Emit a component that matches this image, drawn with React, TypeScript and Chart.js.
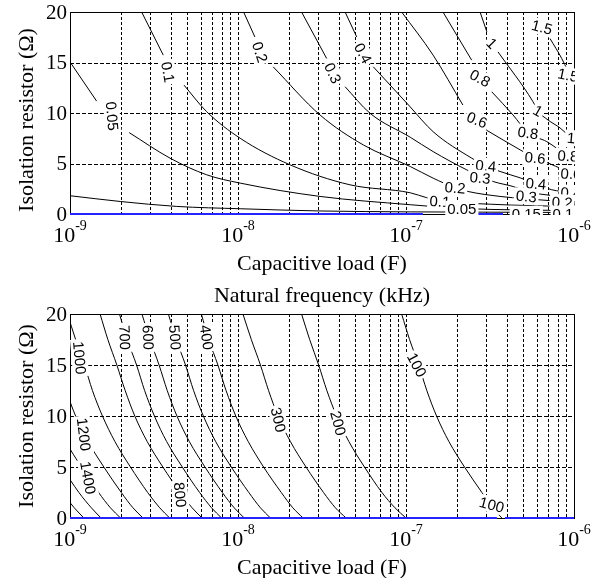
import React, { useEffect, useRef } from "react";
import { Chart, registerables } from "chart.js";

Chart.register(...registerables);

type Pt = [number, number] | null;
type Label = [string, number, number];

// ---------------- axes ----------------
const xDecadeExponents = [-9, -8, -7, -6];
const xMinorMultipliers = [2, 3, 4, 5, 6, 7, 8, 9];
const yTickValues = [0, 5, 10, 15, 20];
const xAxisTitle = "Capacitive load (F)";
const yAxisTitle = "Isolation resistor (Ω)";
const bottomTitle = "Natural frequency (kHz)";

// ---------------- top chart contours: [C (F), R (Ω)] ----------------
const top002: Pt[] = [[1e-9, 1.81], [1.99e-9, 1.24], [4.32e-9, 0.75], [1.03e-8, 0.52], [3.08e-8, 0.3], [1.06e-7, 0.21], [3.2e-7, 0.18], [1e-6, 0.15]];
const top005: Pt[] = [[1e-9, 15.06], [1.44e-9, 11.18], null, [2.25e-9, 8.06], [3.94e-9, 5.53], [6.51e-9, 3.88], [1.03e-8, 3.06], [3.08e-8, 1.74], [1.06e-7, 0.92], [2.15e-7, 0.55], [4.78e-7, 0.4], [1e-6, 0.35]];
const top01: Pt[] = [[2.67e-9, 20], [3.59e-9, 15.73], null, [4.77e-9, 12.76], [6.51e-9, 10.13], [1.03e-8, 7.5], [2.04e-8, 4.87], [4.64e-8, 2.89], [1.06e-7, 2.1], [1.33e-7, 1.61], [1.59e-7, 1.3], [3.17e-7, 0.97], [1e-6, 0.72]];
const top02: Pt[] = [[1.08e-8, 20], [1.26e-8, 17.53], null, [1.62e-8, 14.57], [3.08e-8, 9.8], [5.57e-8, 6.84], [1.06e-7, 4.7], [1.45e-7, 3.55], [1.96e-7, 2.6], [2.34e-7, 2.23], [3.63e-7, 1.74], [5.11e-7, 1.51], [1e-6, 1.16]];
const top03: Pt[] = [[2.39e-8, 20], [3.37e-8, 15.4], null, [4.34e-8, 12.6], [6.11e-8, 9.97], [1.06e-7, 7.6], [1.45e-7, 6.18], [2.3e-7, 4.37], [2.76e-7, 3.78], [3.3e-7, 3.22], [4.34e-7, 2.72], [5.32e-7, 2.2], [1e-6, 1.61]];
const top04: Pt[] = [[4.34e-8, 20], [5.09e-8, 17.53], null, [6.39e-8, 14.57], [1.06e-7, 10.6], [1.45e-7, 8.15], [2.46e-7, 5.53], [2.99e-7, 4.77], [3.63e-7, 4.21], [4.78e-7, 3.58], [5.94e-7, 2.99], [7.37e-7, 2.4], [9.6e-7, 2.1], [1e-6, 2.0]];
const top06: Pt[] = [[9.42e-8, 20], [1.45e-7, 15.73], [2.18e-7, 10.79], null, [3.0e-7, 8.32], [4.78e-7, 6.35], [5.86e-7, 5.56], [7.2e-7, 4.97], [9.6e-7, 3.98], [1e-6, 3.78]];
const top08: Pt[] = [[1.66e-7, 20], [2.46e-7, 15.23], null, [3.24e-7, 12.1], [4.34e-7, 9.8], [5.32e-7, 8.03], [6.88e-7, 7.17], [9.2e-7, 5.75], [1e-6, 5.45]];
const top1: Pt[] = [[2.76e-7, 20], [3.03e-7, 18.03], null, [3.53e-7, 16.05], [5.7e-7, 11.12], [6.1e-7, 10.2], [7.0e-7, 9.31], [8.26e-7, 8.52], [9.6e-7, 7.53], [1e-6, 7.24]];
const top15: Pt[] = [[7.2e-7, 17.37], [8.45e-7, 15.4], [1e-6, 12.86]];
const topZero: Pt[] = [[1e-9, 0], [1.26e-7, 0], null, [2.61e-7, 0], [3.78e-7, 0]];

const topLabels: Label[] = [
  ["0.05", 1.78e-9, 9.7], ["0.1", 3.83e-9, 14.05], ["0.2", 1.35e-8, 16.02], ["0.3", 3.67e-8, 13.95],
  ["0.4", 5.55e-8, 15.92], ["1", 3.24e-7, 16.91], ["0.8", 2.76e-7, 13.45], ["0.6", 2.65e-7, 9.31],
  ["1.5", 6.45e-7, 18.49], ["1.5", 9.2e-7, 13.75], ["1", 6.1e-7, 10.2], ["0.8", 5.32e-7, 8.03],
  ["1", 9.6e-7, 7.53], ["0.6", 5.86e-7, 5.56], ["0.8", 9.2e-7, 5.75], ["0.4", 2.99e-7, 4.77],
  ["0.6", 9.6e-7, 3.98], ["0.3", 2.76e-7, 3.58], ["0.4", 5.94e-7, 2.99], ["0.4", 9.6e-7, 2.1],
  ["0.2", 1.96e-7, 2.6], ["0.3", 5.2e-7, 1.75], ["0.2", 8.5e-7, 1.15], ["0.1", 1.59e-7, 1.24],
  ["0.05", 2.15e-7, 0.52], ["0.15", 5.2e-7, 0.02], ["0.1", 8.6e-7, 0.05],
];
const topLabelAngles = [85, 80, 72, 65, 62, 45, 28, 22, 15, 12, 30, 8, 5, 5, 3, 5, 3, 5, 5, 3, 5, 5, 3, 3, 0, 0, 0];

// ---------------- bottom chart contours (natural frequency, kHz) ----------------
const freq100: Pt[] = [[9.42e-8, 20], [1.05e-7, 17.5], [1.19e-7, 15], [1.33e-7, 12.5], [1.52e-7, 10], [1.8e-7, 7.5], [2.23e-7, 5], [2.83e-7, 2.5], [3.28e-7, 1], [3.72e-7, 0]];
const freq200: Pt[] = [[2.39e-8, 20], [2.67e-8, 17.5], [3.02e-8, 15], [3.38e-8, 12.5], [3.86e-8, 10], [4.57e-8, 7.5], [5.66e-8, 5], [7.19e-8, 2.5], [8.6e-8, 1], [1.0e-7, 0]];
const freq300: Pt[] = [[1.07e-8, 20], [1.2e-8, 17.5], [1.36e-8, 15], [1.52e-8, 12.5], [1.73e-8, 10], [2.05e-8, 7.5], [2.54e-8, 5], [3.23e-8, 2.5], [3.8e-8, 1], [4.4e-8, 0]];
const freq400: Pt[] = [[6.05e-9, 20], [6.7e-9, 17.5], [7.59e-9, 15], [8.49e-9, 12.5], [9.7e-9, 10], [1.15e-8, 7.5], [1.42e-8, 5], [1.81e-8, 2.5], [2.12e-8, 1], [2.44e-8, 0]];
const freq500: Pt[] = [[3.85e-9, 20], [4.29e-9, 17.5], [4.87e-9, 15], [5.44e-9, 12.5], [6.22e-9, 10], [7.36e-9, 7.5], [9.12e-9, 5], [1.16e-8, 2.5], [1.36e-8, 1], [1.56e-8, 0]];
const freq600: Pt[] = [[2.68e-9, 20], [2.99e-9, 17.5], [3.39e-9, 15], [3.79e-9, 12.5], [4.33e-9, 10], [5.13e-9, 7.5], [6.36e-9, 5], [8.07e-9, 2.5], [9.49e-9, 1], [1.09e-8, 0]];
const freq700: Pt[] = [[1.97e-9, 20], [2.19e-9, 17.5], [2.49e-9, 15], [2.78e-9, 12.5], [3.18e-9, 10], [3.76e-9, 7.5], [4.66e-9, 5], [5.91e-9, 2.5], [6.96e-9, 1], [7.98e-9, 0]];
const freq800: Pt[] = [[1.51e-9, 20], [1.68e-9, 17.5], [1.9e-9, 15], [2.13e-9, 12.5], [2.43e-9, 10], [2.88e-9, 7.5], [3.57e-9, 5], [4.53e-9, 2.5], [5.33e-9, 1], [6.11e-9, 0]];
const freq1000: Pt[] = [[9.66e-10, 20], [1.08e-9, 17.5], [1.22e-9, 15], [1.36e-9, 12.5], [1.56e-9, 10], [1.85e-9, 7.5], [2.29e-9, 5], [2.9e-9, 2.5], [3.42e-9, 1], [3.92e-9, 0]];
const freq1200: Pt[] = [[8.48e-10, 15], [9.48e-10, 12.5], [1.08e-9, 10], [1.28e-9, 7.5], [1.59e-9, 5], [2.02e-9, 2.5], [2.37e-9, 1], [2.72e-9, 0]];
const freq1400: Pt[] = [[6.97e-10, 12.5], [7.96e-10, 10], [9.43e-10, 7.5], [1.17e-9, 5], [1.48e-9, 2.5], [1.74e-9, 1], [2.0e-9, 0]];
const freq1600: Pt[] = [[6.1e-10, 10], [7.22e-10, 7.5], [8.94e-10, 5], [1.13e-9, 2.5], [1.34e-9, 1], [1.53e-9, 0]];
const freq1800: Pt[] = [[5.72e-10, 7.5], [7.09e-10, 5], [9.0e-10, 2.5], [1.06e-9, 1], [1.21e-9, 0]];
const bottomZero: Pt[] = [[1e-9, 0], [3.48e-7, 0], null, [3.88e-7, 0], [1e-6, 0]];

const bottomLabels: Label[] = [
  ["1000", 1.14e-9, 15.7], ["700", 2.12e-9, 17.7], ["600", 2.92e-9, 17.7], ["500", 4.22e-9, 17.7],
  ["400", 6.51e-9, 17.7], ["1200", 1.21e-9, 8.2], ["1400", 1.28e-9, 3.95], ["800", 4.52e-9, 2.28],
  ["300", 1.74e-8, 9.64], ["200", 3.95e-8, 9.3], ["100", 1.16e-7, 15.0], ["100", 3.24e-7, 1.3],
];
const bottomLabelAngles = [85, 88, 88, 86, 82, 83, 80, 84, 77, 75, 62, 15];

// ---------------- rendering ----------------
const SERIF = '"Liberation Serif", "Times New Roman", Times, serif';
const SANS = '"Liberation Sans", Arial, Helvetica, sans-serif';
const xMin = Math.pow(10, xDecadeExponents[0]);
const xMax = Math.pow(10, xDecadeExponents[xDecadeExponents.length - 1]);
const yMin = yTickValues[0];
const yMax = yTickValues[yTickValues.length - 1];

interface PanelCfg {
  top: number;
  height: number;
  padding: { left: number; right: number; top: number; bottom: number };
  lines: Pt[][];
  zero: Pt[];
  labels: Label[];
  angles: number[];
  title?: string;
  yTitleY: number;
}

function makeDecor(cfg: PanelCfg) {
  return {
    id: "decor",
    beforeDatasetsDraw(chart: any) {
      const { ctx, chartArea: a } = chart;
      const xs = chart.scales.x;
      const ys = chart.scales.y;
      const L = Math.round(a.left), R = Math.round(a.right), T = Math.round(a.top), B = Math.round(a.bottom);
      ctx.save();
      ctx.strokeStyle = "#000";
      ctx.lineWidth = 1;
      ctx.setLineDash([3, 2]);
      for (const e of xDecadeExponents) {
        for (const m of [1, ...xMinorMultipliers]) {
          const v = m * Math.pow(10, e);
          if (v < xMin * 1.001 || v > xMax * 0.999) continue;
          const px = Math.round(xs.getPixelForValue(v)) + 0.5;
          ctx.beginPath();
          ctx.moveTo(px, T);
          ctx.lineTo(px, B);
          ctx.stroke();
        }
      }
      ctx.setLineDash([4, 2]);
      for (const t of yTickValues) {
        if (t <= yMin || t >= yMax) continue;
        const py = Math.round(ys.getPixelForValue(t)) + 0.5;
        ctx.beginPath();
        ctx.moveTo(L, py);
        ctx.lineTo(R, py);
        ctx.stroke();
      }
      ctx.setLineDash([]);
      ctx.strokeRect(L + 0.5, T + 0.5, R - L, B - T);
      ctx.restore();
    },
    afterDatasetsDraw(chart: any) {
      const { ctx, chartArea: a } = chart;
      const xs = chart.scales.x;
      const ys = chart.scales.y;
      ctx.save();
      ctx.beginPath();
      ctx.rect(a.left - 1, a.top - 1, a.right - a.left + 2, a.bottom - a.top + 2);
      ctx.clip();
      ctx.font = `15px ${SANS}`;
      cfg.labels.forEach((lb, i) => {
        const px = xs.getPixelForValue(lb[1]);
        const py = ys.getPixelForValue(lb[2]);
        const ang = ((cfg.angles[i] || 0) * Math.PI) / 180;
        const w = ctx.measureText(lb[0]).width;
        ctx.save();
        ctx.translate(px, py);
        ctx.rotate(ang);
        ctx.fillStyle = "#fff";
        ctx.fillRect(-w / 2 - 2, -8, w + 4, 16);
        ctx.fillStyle = "#000";
        ctx.textAlign = "center";
        ctx.textBaseline = "middle";
        ctx.fillText(lb[0], 0, 1);
        ctx.restore();
      });
      ctx.restore();
    },
    afterDraw(chart: any) {
      const { ctx, chartArea: a } = chart;
      const xs = chart.scales.x;
      const ys = chart.scales.y;
      ctx.save();
      ctx.fillStyle = "#000";
      // y tick labels
      ctx.font = `21px ${SERIF}`;
      ctx.textAlign = "right";
      ctx.textBaseline = "middle";
      for (const t of yTickValues) {
        ctx.fillText(String(t), a.left - 3, ys.getPixelForValue(t) + 1);
      }
      // x tick labels with superscripts
      ctx.textBaseline = "alphabetic";
      ctx.textAlign = "left";
      for (const e of xDecadeExponents) {
        const cx = xs.getPixelForValue(Math.pow(10, e));
        ctx.font = `22px ${SERIF}`;
        const w1 = ctx.measureText("10").width;
        ctx.font = `14px ${SERIF}`;
        const sup = "-" + String(Math.abs(e));
        const w2 = ctx.measureText(sup).width;
        const x0 = cx - (w1 + w2) / 2;
        ctx.font = `22px ${SERIF}`;
        ctx.fillText("10", x0, a.bottom + 28);
        ctx.font = `14px ${SERIF}`;
        ctx.fillText(sup, x0 + w1, a.bottom + 16);
      }
      // x axis title
      ctx.font = `22px ${SERIF}`;
      ctx.textAlign = "center";
      ctx.fillText(xAxisTitle, (a.left + a.right) / 2, a.bottom + 56);
      // chart title
      if (cfg.title) {
        ctx.fillText(cfg.title, (a.left + a.right) / 2, a.top - 12);
      }
      // y axis title
      ctx.save();
      ctx.translate(27, cfg.yTitleY);
      ctx.rotate(-Math.PI / 2);
      ctx.textBaseline = "middle";
      ctx.fillText(yAxisTitle, 0, 0);
      ctx.restore();
      ctx.restore();
    },
  };
}

function Panel({ cfg }: { cfg: PanelCfg }) {
  const ref = useRef<HTMLCanvasElement | null>(null);
  useEffect(() => {
    const canvas = ref.current;
    if (!canvas) return;
    const datasets: any[] = [];
    const addLine = (pts: Pt[], color: string, width: number, smooth: boolean, extraClip: boolean) => {
      let seg: { x: number; y: number }[] = [];
      const flush = () => {
        if (seg.length > 1) {
          const ds: any = {
            data: seg,
            borderColor: color,
            borderWidth: width,
            pointRadius: 0,
            fill: false,
            tension: 0,
            cubicInterpolationMode: smooth ? "monotone" : "default",
          };
          if (extraClip) ds.clip = { left: 0, right: 0, top: 0, bottom: 3 };
          datasets.push(ds);
        }
        seg = [];
      };
      for (const p of pts) {
        if (p === null) flush();
        else seg.push({ x: p[0], y: p[1] });
      }
      flush();
    };
    addLine(cfg.zero, "#2424ff", 2, false, true);
    for (const ln of cfg.lines) addLine(ln, "#000", 1, true, false);

    const chart = new Chart(canvas, {
      type: "line",
      data: { datasets },
      options: {
        animation: false,
        responsive: false,
        devicePixelRatio: 1,
        events: [],
        layout: { padding: cfg.padding },
        plugins: { legend: { display: false }, tooltip: { enabled: false }, title: { display: false } },
        scales: {
          x: {
            type: "logarithmic",
            min: xMin,
            max: xMax,
            ticks: { display: false },
            grid: { display: false, drawTicks: false },
            border: { display: false },
            afterFit: (s: any) => {
              s.height = 0;
            },
          },
          y: {
            type: "linear",
            min: yMin,
            max: yMax,
            ticks: { display: false },
            grid: { display: false, drawTicks: false },
            border: { display: false },
            afterFit: (s: any) => {
              s.width = 0;
            },
          },
        },
      } as any,
      plugins: [makeDecor(cfg)],
    });
    return () => chart.destroy();
  }, [cfg]);
  return (
    <canvas
      ref={ref}
      width={601}
      height={cfg.height}
      style={{ position: "absolute", left: 0, top: cfg.top, display: "block" }}
    />
  );
}

const topCfg: PanelCfg = {
  top: 0,
  height: 280,
  padding: { left: 70, right: 27, top: 12, bottom: 66 },
  lines: [top002, top005, top01, top02, top03, top04, top06, top08, top1, top15],
  zero: topZero,
  labels: topLabels,
  angles: topLabelAngles,
  yTitleY: 120,
};

const bottomCfg: PanelCfg = {
  top: 280,
  height: 298,
  padding: { left: 70, right: 27, top: 34, bottom: 60 },
  lines: [freq100, freq200, freq300, freq400, freq500, freq600, freq700, freq800, freq1000, freq1200, freq1400, freq1600, freq1800],
  zero: bottomZero,
  labels: bottomLabels,
  angles: bottomLabelAngles,
  title: bottomTitle,
  yTitleY: 136,
};

export default function App() {
  return (
    <div style={{ position: "absolute", left: 0, top: 0, width: 601, height: 578, background: "#fff", overflow: "hidden" }}>
      <Panel cfg={topCfg} />
      <Panel cfg={bottomCfg} />
    </div>
  );
}
